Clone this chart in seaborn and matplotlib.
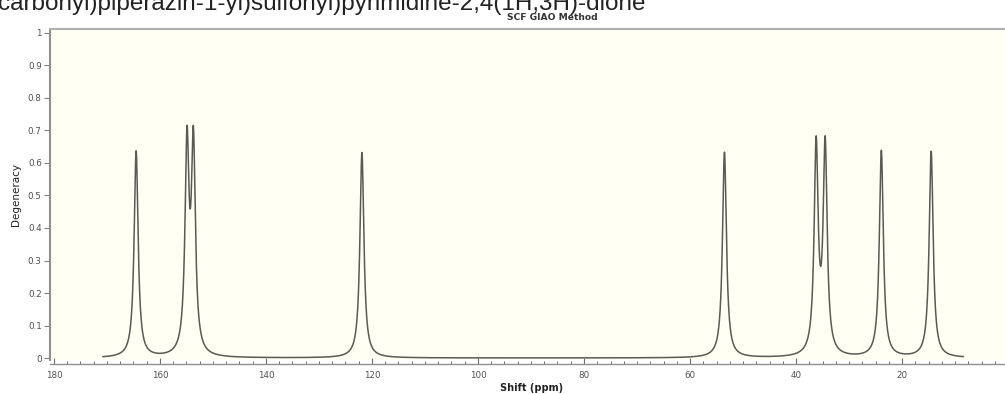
import numpy as np
import pandas as pd
import matplotlib
matplotlib.use("Agg")
import matplotlib.pyplot as plt
import seaborn as sns

# Peak list (shift in ppm, degeneracy amplitude)
peak_shifts = [164.5, 154.9, 153.7, 121.9, 53.5, 36.2, 34.5, 23.9, 14.5]
peak_heights = [0.635, 0.635, 0.635, 0.632, 0.632, 0.64, 0.64, 0.636, 0.634]
line_hwhm = 0.45          # Lorentzian half width used for broadening (ppm)
shift_range = [170.8, 8.4]
x_ticks = [180, 160, 140, 120, 100, 80, 60, 40, 20]
y_ticks = [0, 0.1, 0.2, 0.3, 0.4, 0.5, 0.6, 0.7, 0.8, 0.9, 1]
y_tick_labels = ["0", "0.1", "0.2", "0.3", "0.4", "0.5", "0.6", "0.7", "0.8", "0.9", "1"]

shift = np.linspace(shift_range[0], shift_range[1], 6000)
deg = np.zeros_like(shift)
for c, h in zip(peak_shifts, peak_heights):
    deg += h / (1 + ((shift - c) / line_hwhm) ** 2)
df = pd.DataFrame({"Shift (ppm)": shift, "Degeneracy": deg})

sns.set_style("white")
plt.rcParams['font.family'] = ['DejaVu Sans']

fig = plt.figure(figsize=(10.05, 3.94), dpi=100)
ax = fig.add_axes([50/1005, 1 - 360/394, 955/1005, (360-29)/394])
ax.set_facecolor("#fffff4")

sns.lineplot(data=df, x="Shift (ppm)", y="Degeneracy", ax=ax, color="#5a5a55",
             linewidth=1.1, sort=False, estimator=None)

ax.set_xlim(180.75, 0.57)
ax.set_ylim(-0.006, 1.012)
ax.set_xticks(x_ticks)
ax.set_xticks(np.arange(180, 0, -2.5), minor=True)
ax.set_yticks(y_ticks)
ax.set_yticklabels(y_tick_labels)

ax.spines["right"].set_visible(False)
ax.spines["top"].set_color("#b0b0b0")
ax.spines["top"].set_linewidth(1.5)
ax.spines["left"].set_color("#909090")
ax.spines["left"].set_linewidth(1.5)
ax.spines["bottom"].set_color("#909090")
ax.spines["bottom"].set_linewidth(1.0)
ax.spines["bottom"].set_position(("outward", 3))

ax.tick_params(axis="y", which="major", direction="out", length=4, width=0.8,
               color="#808080", labelsize=6.3, labelcolor="#505050", pad=2, left=True)
ax.tick_params(axis="x", which="major", direction="in", length=4, width=0.8,
               color="#707070", labelsize=6.3, labelcolor="#505050", pad=5, bottom=True)
ax.tick_params(axis="x", which="minor", direction="in", length=2.5, width=0.7,
               color="#707070", bottom=True)

ax.set_ylabel("")
ax.set_xlabel("")
fig.text(16/1005, 1 - 195/394, "Degeneracy", rotation=90, ha="center", va="center",
         fontsize=7.5, color="#222222")
fig.text(532/1005, 1 - 388/394, "Shift (ppm)", ha="center", va="center",
         fontsize=7, fontweight="bold", color="#222222")

fig.text(552/1005, 1 - 18/394, "SCF GIAO Method", ha="center", va="center",
         fontsize=6.6, fontweight="bold", color="#333333")
fig.text(-2/1005, 1 - 10/394,
         "carbonyl)piperazin-1-yl)sulfonyl)pyrimidine-2,4(1H,3H)-dione",
         ha="left", va="baseline", fontsize=17.5, color="#222222",
         family=["Liberation Sans", "DejaVu Sans"])

fig.savefig("out.png", dpi=100, facecolor="white")
